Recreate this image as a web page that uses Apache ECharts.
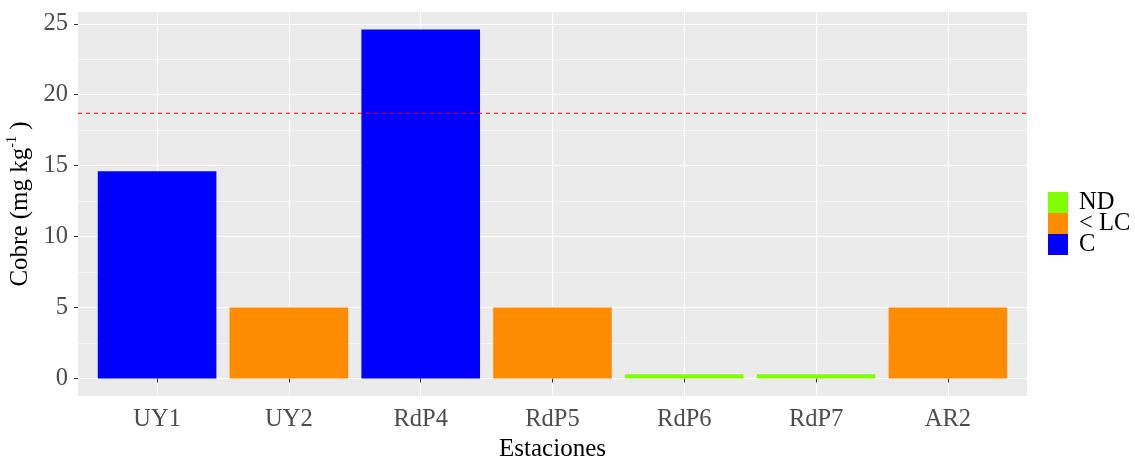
<!DOCTYPE html>
<html>
<head>
<meta charset="utf-8">
<script src="https://cdn.jsdelivr.net/npm/echarts@6/dist/echarts.min.js"></script>
<style>
  html, body { margin: 0; padding: 0; background: #fff; }
  #chart { width: 1135px; height: 458px; }
</style>
</head>
<body>
<div id="chart"></div>
<script>
// datos
const estaciones = ['UY1', 'UY2', 'RdP4', 'RdP5', 'RdP6', 'RdP7', 'AR2'];
const cobre = [14.6, 5, 24.6, 5, 0.3, 0.3, 5];
const estado = ['C', '< LC', 'C', '< LC', 'ND', 'ND', '< LC'];
const grupos = ['ND', '< LC', 'C'];
const colores = { 'ND': '#7FFF00', '< LC': '#FF8C00', 'C': '#0000FF' };
const limite = 18.7;
const yTicks = [0, 5, 10, 15, 20, 25];
const yMinor = [2.5, 7.5, 12.5, 17.5, 22.5];

const fuente = 'Liberation Serif';
const xPos = estaciones.map((e, i) => i + 1);
const xMin = 0.4, xMax = estaciones.length + 0.6;

const chart = echarts.init(document.getElementById('chart'));

const series = grupos.map(g => ({
    name: g,
    type: 'bar',
    barWidth: 118.6,
    barGap: '-100%',
    itemStyle: { color: colores[g] },
    emphasis: { disabled: true },
    data: estaciones
        .map((e, i) => estado[i] === g ? [i + 1, cobre[i]] : null)
        .filter(d => d !== null),
    z: 3
}));

// linea de referencia (discontinua roja), de borde a borde del panel
series.push({
    name: 'limite',
    type: 'line',
    silent: true,
    symbol: 'none',
    z: 5,
    lineStyle: { color: '#FF0000', type: [4, 4], width: 1.1 },
    emphasis: { disabled: true },
    data: [[xMin, limite], [xMax, limite]]
});

const option = {
    animation: false,
    textStyle: { fontFamily: fuente },
    grid: {
        left: 78, right: 108, top: 12, bottom: 62,
        outerBoundsMode: 'none',
        containLabel: false,
        show: true,
        backgroundColor: '#EBEBEB',
        borderWidth: 0
    },
    legend: {
        orient: 'vertical',
        left: 1048,
        top: 190,
        padding: 0,
        itemWidth: 20,
        itemHeight: 21,
        itemGap: -4,
        icon: 'rect',
        data: grupos,
        textStyle: { fontFamily: fuente, fontSize: 24.5, color: '#000', padding: [0, 0, 0, 6] }
    },
    xAxis: {
        type: 'value',
        min: xMin,
        max: xMax,
        name: 'Estaciones',
        nameLocation: 'middle',
        nameGap: 38,
        nameTextStyle: { fontFamily: fuente, fontSize: 25, color: '#000' },
        axisLine: { show: false },
        axisTick: { show: true, length: 4, customValues: xPos, lineStyle: { color: '#333333', width: 1 } },
        axisLabel: {
            customValues: xPos,
            margin: 11,
            fontFamily: fuente, fontSize: 24.5, color: '#4D4D4D',
            formatter: v => estaciones[Math.round(v) - 1]
        },
        splitLine: { show: true, lineStyle: { color: '#FFFFFF', width: 1 } }
    },
    yAxis: [{
        type: 'value',
        min: -1.23,
        max: 25.83,
        name: '{a|Cobre (mg kg}{s|-1}{a| )}',
        nameLocation: 'middle',
        nameGap: 40,
        nameTextStyle: {
            rich: {
                a: { fontFamily: fuente, fontSize: 25, color: '#000', lineHeight: 30 },
                s: { fontFamily: fuente, fontSize: 14, color: '#000', lineHeight: 30, verticalAlign: 'top' }
            }
        },
        axisLine: { show: false },
        axisTick: { show: true, length: 4, customValues: yTicks, lineStyle: { color: '#333333', width: 1 } },
        axisLabel: {
            customValues: yTicks,
            margin: 10,
            fontFamily: fuente, fontSize: 24.5, color: '#4D4D4D'
        },
        splitLine: { show: true, lineStyle: { color: '#FFFFFF', width: 1 } }
    }, {
        type: 'value',
        min: -1.23,
        max: 25.83,
        position: 'left',
        axisLine: { show: false },
        axisTick: { show: false, customValues: yMinor },
        axisLabel: { show: false, customValues: yMinor },
        splitLine: { show: true, lineStyle: { color: '#FFFFFF', width: 0.5 } }
    }],
    series: series
};

chart.setOption(option);
</script>
</body>
</html>
